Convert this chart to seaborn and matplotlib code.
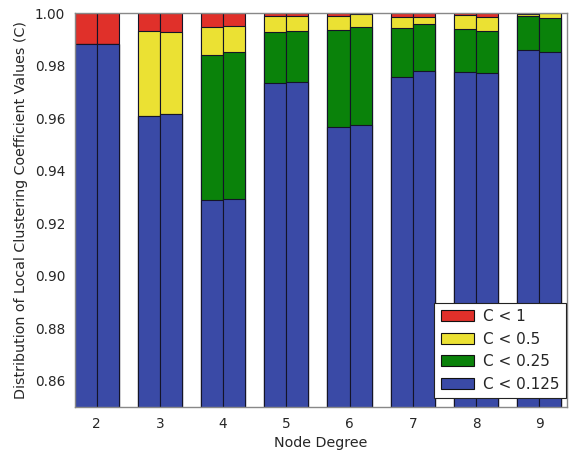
import pandas as pd
import matplotlib
matplotlib.use("Agg")
import matplotlib.pyplot as plt
import matplotlib.patches as mpatches
import seaborn as sns

# node degree and two runs per degree
degrees = [2, 3, 4, 5, 6, 7, 8, 9]
runs = ["A", "B"]

# cumulative share of nodes below each clustering threshold, per run
below_0125_a = [0.9882, 0.9608, 0.9289, 0.9732, 0.9567, 0.9755, 0.9776, 0.9860]
below_0125_b = [0.9882, 0.9614, 0.9290, 0.9736, 0.9573, 0.9780, 0.9770, 0.9853]
below_025_a = [0.9882, 0.9608, 0.9840, 0.9929, 0.9936, 0.9943, 0.9938, 0.9987]
below_025_b = [0.9882, 0.9614, 0.9850, 0.9932, 0.9945, 0.9958, 0.9930, 0.9980]
below_05_a = [0.9882, 0.9930, 0.9945, 0.9990, 0.9990, 0.9983, 0.9994, 0.9997]
below_05_b = [0.9882, 0.9929, 0.9950, 0.9990, 0.9997, 0.9983, 0.9986, 1.0000]
below_1_a = [1.0] * 8
below_1_b = [1.0] * 8

labels = ["C < 1", "C < 0.5", "C < 0.25", "C < 0.125"]
colors = ["#e0302a", "#ebe133", "#0a820a", "#3a4aa6"]


def layer(vals_a, vals_b):
    df_a = pd.DataFrame({"degree": degrees, "run": "A", "value": vals_a})
    df_b = pd.DataFrame({"degree": degrees, "run": "B", "value": vals_b})
    return pd.concat([df_a, df_b])


layers = [
    layer(below_1_a, below_1_b),
    layer(below_05_a, below_05_b),
    layer(below_025_a, below_025_b),
    layer(below_0125_a, below_0125_b),
]

sns.set_style("white")
plt.rcParams["font.family"] = ["DejaVu Sans"]
plt.rcParams["text.color"] = "#262626"
plt.rcParams["axes.labelcolor"] = "#262626"
plt.rcParams["xtick.color"] = "#262626"
plt.rcParams["ytick.color"] = "#262626"

fig = plt.figure(figsize=(5.75, 4.55), dpi=100)
ax = fig.add_axes([0.1304, 0.1055, 0.8556, 0.8659])

# draw the tallest layer first, shorter ones on top
for df, c in zip(layers, colors):
    sns.barplot(
        data=df, x="degree", y="value", hue="run", hue_order=runs,
        palette=[c, c], saturation=1, width=0.7, dodge=True, legend=False,
        edgecolor="#141428", linewidth=0.8, errorbar=None, ax=ax,
    )

ax.set_ylim(0.85, 1.0)
ax.set_xlim(-0.344, 7.44)
ax.set_yticks([0.86, 0.88, 0.90, 0.92, 0.94, 0.96, 0.98, 1.00])
ax.set_yticklabels(["%.2f" % t for t in ax.get_yticks()])
ax.tick_params(labelsize=9.8, length=0, pad=7)

for sp in ax.spines.values():
    sp.set_color("#888888")
    sp.set_linewidth(1)

ax.set_xlabel("Node Degree", fontsize=10.3, labelpad=4)
ax.set_ylabel("Distribution of Local Clustering Coefficient Values (C)", fontsize=10.3, labelpad=5)

handles = [mpatches.Patch(facecolor=c, edgecolor="#111111", linewidth=0.8, label=l)
           for c, l in zip(colors, labels)]
leg = ax.legend(handles=handles, loc="lower right", bbox_to_anchor=(0.998, 0.023),
                borderaxespad=0, fontsize=11, fancybox=False, framealpha=1,
                handlelength=2.2, handletextpad=0.6)
leg.get_frame().set_edgecolor("#222222")
leg.get_frame().set_linewidth(0.8)

plt.savefig("out.png", dpi=100)
